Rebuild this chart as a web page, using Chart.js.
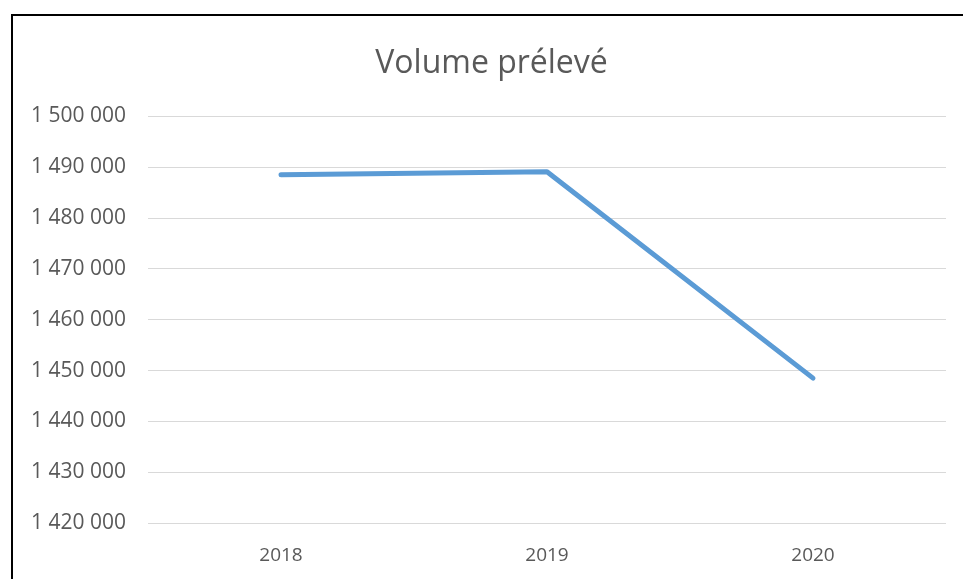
<!DOCTYPE html>
<html>
<head>
<meta charset="utf-8">
<script src="https://cdn.jsdelivr.net/npm/chart.js@4/dist/chart.umd.min.js"></script>
<style>
  html, body { margin: 0; padding: 0; background: #fff; overflow: hidden; }
  #frame {
    position: absolute; left: 11px; top: 14px;
    width: 952px; height: 565px;
    border-left: 2px solid #000; border-top: 2px solid #000;
  }
  #wrap { position: absolute; left: 0; top: 0; width: 950px; height: 563px; }
</style>
</head>
<body>
<div id="frame"><div id="wrap"><canvas id="chart1"></canvas></div></div>
<script>
const years = ['2018', '2019', '2020'];
const volumes = [1488500, 1489100, 1448500];
const yMin = 1420000;
const yMax = 1500000;
const yStep = 10000;

const grey = '#595959';

function fmt(v) {
  return String(v).replace(/\B(?=(\d{3})+(?!\d))/g, ' ');
}

// nudge the title a bit to the right, like in excel
const titleShift = {
  id: 'titleShift',
  afterLayout(chart) {
    if (chart.titleBlock) chart.titleBlock.left += 24;
  }
};

window.addEventListener('DOMContentLoaded', () => {
  const ctx = document.getElementById('chart1').getContext('2d');
  new Chart(ctx, {
    type: 'line',
    data: {
      labels: years,
      datasets: [{
        label: 'Volume prélevé',
        data: volumes,
        borderColor: '#5b9bd5',
        borderWidth: 5,
        borderCapStyle: 'round',
        borderJoinStyle: 'round',
        pointRadius: 0,
        tension: 0,
        fill: false
      }]
    },
    plugins: [titleShift],
    options: {
      responsive: true,
      maintainAspectRatio: false,
      animation: false,
      layout: { padding: { left: 0, right: 17, top: 0, bottom: 0 } },
      plugins: {
        legend: { display: false },
        tooltip: { enabled: false },
        title: {
          display: true,
          text: 'Volume prélevé',
          color: grey,
          font: { family: 'Open Sans', size: 32, weight: 'normal' },
          padding: { top: 29, bottom: 33 }
        }
      },
      scales: {
        x: {
          offset: true,
          grid: { display: false, drawTicks: false },
          border: { display: false },
          ticks: {
            color: grey,
            font: { family: 'Open Sans', size: 19 },
            padding: 21
          },
          afterFit: (scale) => { scale.height = 56; }
        },
        y: {
          min: yMin,
          max: yMax,
          grid: { color: '#d9d9d9', lineWidth: 1, drawTicks: false },
          border: { display: false },
          ticks: {
            stepSize: yStep,
            color: grey,
            font: { family: 'Open Sans', size: 21 },
            padding: 22,
            callback: (v) => fmt(v)
          },
          afterFit: (scale) => { scale.width = 135; }
        }
      }
    }
  });
});
</script>
</body>
</html>
